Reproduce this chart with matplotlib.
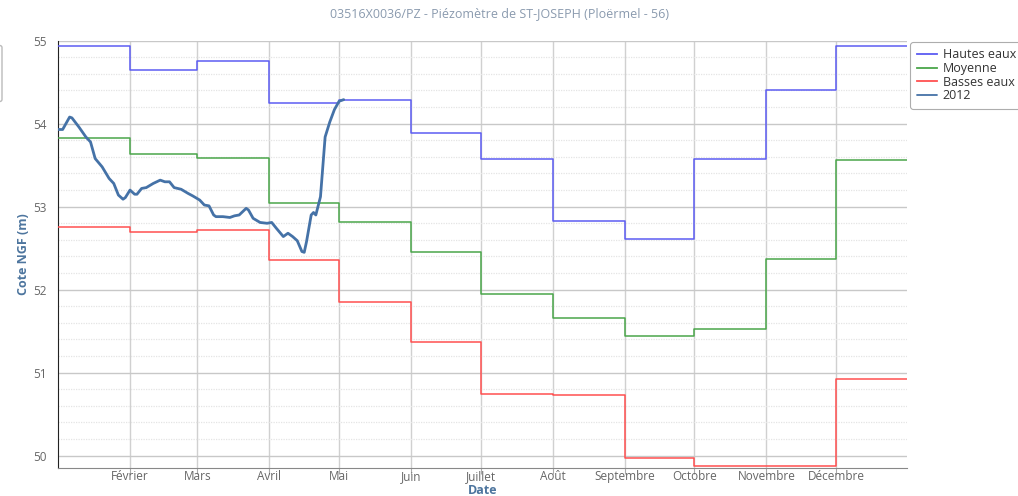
import matplotlib

matplotlib.use("Agg")

import numpy as np
import matplotlib.pyplot as plt
import matplotlib.dates as mdates
from matplotlib.patches import FancyBboxPatch
from matplotlib.ticker import MultipleLocator

# ---- Data ----
month_starts = ["2012-01-01", "2012-02-01", "2012-03-01", "2012-04-01",
                "2012-05-01", "2012-06-01", "2012-07-01", "2012-08-01",
                "2012-09-01", "2012-10-01", "2012-11-01", "2012-12-01"]
month_labels = ["Janvier", "Février", "Mars", "Avril", "Mai", "Juin", "Juillet",
                "Août", "Septembre", "Octobre", "Novembre", "Décembre"]

hautes_eaux = [54.94, 54.65, 54.76, 54.25, 54.28, 53.89,
               53.57, 52.83, 52.61, 53.57, 54.41, 54.94]
moyenne = [53.83, 53.63, 53.59, 53.04, 52.81, 52.46,
           51.95, 51.66, 51.44, 51.53, 52.37, 53.56]
basses_eaux = [52.76, 52.70, 52.72, 52.36, 51.85, 51.37,
               50.74, 50.73, 49.97, 49.87, 49.88, 50.92]

dates_2012 = ["2012-01-01", "2012-01-03", "2012-01-06", "2012-01-07", "2012-01-10",
              "2012-01-13", "2012-01-15", "2012-01-17", "2012-01-20", "2012-01-23",
              "2012-01-25", "2012-01-27", "2012-01-29", "2012-01-30", "2012-02-01",
              "2012-02-03", "2012-02-04", "2012-02-06", "2012-02-08", "2012-02-11",
              "2012-02-14", "2012-02-16", "2012-02-18", "2012-02-20", "2012-02-23",
              "2012-02-26", "2012-02-28", "2012-03-02", "2012-03-04", "2012-03-06",
              "2012-03-08", "2012-03-09", "2012-03-12", "2012-03-15", "2012-03-17",
              "2012-03-19", "2012-03-22", "2012-03-23", "2012-03-25", "2012-03-28",
              "2012-03-31", "2012-04-02", "2012-04-04", "2012-04-07", "2012-04-09",
              "2012-04-11", "2012-04-13", "2012-04-15", "2012-04-16", "2012-04-17",
              "2012-04-19", "2012-04-20", "2012-04-21", "2012-04-23", "2012-04-25",
              "2012-04-27", "2012-04-29", "2012-05-01", "2012-05-03"]
levels_2012 = [53.93, 53.93, 54.08, 54.07, 53.96,
               53.84, 53.78, 53.58, 53.48, 53.34,
               53.28, 53.14, 53.09, 53.11, 53.20,
               53.15, 53.15, 53.22, 53.23, 53.28,
               53.32, 53.30, 53.30, 53.23, 53.21,
               53.16, 53.13, 53.08, 53.02, 53.01,
               52.90, 52.88, 52.88, 52.87, 52.89,
               52.90, 52.98, 52.96, 52.86, 52.81,
               52.80, 52.81, 52.74, 52.64, 52.68,
               52.64, 52.59, 52.46, 52.45, 52.58,
               52.90, 52.93, 52.90, 53.12, 53.84,
               54.02, 54.17, 54.27, 54.29]

year_end = "2012-12-31T12:00"

# ---- Figure ----
plt.rcParams["font.family"] = ["Open Sans", "DejaVu Sans"]

fig = plt.figure(figsize=(10.18, 4.96), dpi=100)
ax = fig.add_axes([58 / 1018, 1 - 467.7 / 496, (907 - 58) / 1018, (467.7 - 40.7) / 496])

x_steps = np.array(month_starts + [year_end], dtype="datetime64[m]")


def step_series(values):
    return list(values) + [values[-1]]


ax.step(x_steps, step_series(hautes_eaux), where="post", color="#5c5cf2",
        lw=1.1, label="Hautes eaux", zorder=3)
ax.step(x_steps, step_series(moyenne), where="post", color="#4aa64a",
        lw=1.1, label="Moyenne", zorder=3)
ax.step(x_steps, step_series(basses_eaux), where="post", color="#ff5050",
        lw=1.1, label="Basses eaux", zorder=3)
ax.plot(np.array(dates_2012, dtype="datetime64[D]"), levels_2012, color="#4572a7",
        lw=2.0, label="2012", zorder=4, solid_joinstyle="round", solid_capstyle="round")

# ---- Axes ----
ax.set_xlim(np.datetime64("2012-01-01"), np.datetime64(year_end))
ax.set_ylim(49.855, 55.0)

tick_dates = np.array(month_starts[1:], dtype="datetime64[D]")
ax.set_xticks(mdates.date2num(tick_dates))
ax.set_xticklabels(month_labels[1:])
ax.yaxis.set_major_locator(MultipleLocator(1))
ax.yaxis.set_minor_locator(MultipleLocator(0.2))

ax.grid(axis="x", which="major", color="#d0d0d0", lw=1.0)
ax.grid(axis="y", which="major", color="#c8c8c8", lw=1.0)
ax.grid(axis="y", which="minor", color="#e4e4e4", lw=0.9, ls=(0, (1, 1)))
ax.set_axisbelow(True)

ax.tick_params(axis="x", length=4, color="#aaaaaa", labelsize=8.5,
               labelcolor="#666666", pad=-2.5)
ax.tick_params(axis="y", which="both", length=0, labelsize=8.5,
               labelcolor="#666666", pad=8)

for side in ("top", "right"):
    ax.spines[side].set_visible(False)
ax.spines["left"].set_color("#222222")
ax.spines["bottom"].set_color("#888888")

ax.set_ylabel("Cote NGF (m)", color="#4d759e", fontsize=9, fontweight="bold", labelpad=2)
fig.text(482.5 / 1018, 1 - 491 / 496, "Date", ha="center", va="center",
         color="#4d759e", fontsize=9, fontweight="bold")

fig.text(0.491, 1 - 14 / 496, "03516X0036/PZ - Piézomètre de ST-JOSEPH (Ploërmel - 56)",
         ha="center", va="center", color="#8a9aae", fontsize=9)

leg = fig.legend(loc="upper left", bbox_to_anchor=(904 / 1018, 1 - 36 / 496),
                 frameon=True, fontsize=9, handlelength=1.6, handletextpad=0.5,
                 labelspacing=0.05, borderpad=0.5, fancybox=True)
leg.get_frame().set_edgecolor("#999999")
leg.get_frame().set_linewidth(0.8)
for txt in leg.get_texts():
    txt.set_color("#333333")
for line in leg.get_lines():
    line.set_linewidth(1.3)

# clipped button box at the left edge of the page
fig.patches.append(FancyBboxPatch((-20 / 1018, 1 - 102 / 496), 22 / 1018, 57 / 496,
                                  boxstyle="round,pad=0,rounding_size=0.005",
                                  transform=fig.transFigure, fc="none",
                                  ec="#bbbbbb", lw=1.0))

fig.savefig("out.png", dpi=100)
